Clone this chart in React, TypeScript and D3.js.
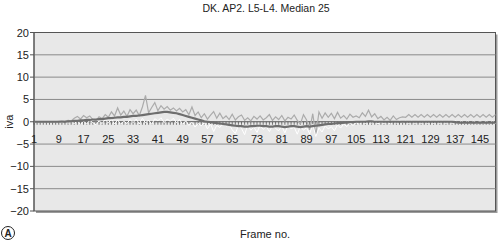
import React from "react";
import * as d3 from "d3";

const title = "DK. AP2. L5-L4. Median 25";
const yTicks = [20, 15, 10, 5, 0, -5, -10, -15, -20];
const xTickLabels = [1, 9, 17, 25, 33, 41, 49, 57, 65, 73, 81, 89, 97, 105, 113, 121, 129, 137, 145];

const upper = [
  0, 0, 0, 0, 0, 0, 0, 0,
  0.1, 0.2, 0.1, 0.3, 0.2, 0.8, 1.2, 0.6,
  1.4, 0.9, 1.3, 0.5, 0.2, 1.1, 0.7, 1.6,
  1.0, 2.2, 1.3, 3.1, 1.5, 2.4, 1.2, 2.7,
  1.8, 2.6, 1.4, 3.3, 5.9, 2.0, 3.2, 4.3,
  2.5, 3.6, 2.8, 3.4, 2.6, 3.1, 2.4, 3.0,
  2.2, 2.7, 1.6, 3.3, 1.4, 2.2, 0.9, 1.8,
  0.6, 1.5, 2.3, 0.8, 1.9, 0.7, 1.3, 0.5,
  1.7, 0.4, 1.1, 1.5, 0.3, 0.9, 0.2, 1.2,
  0.6, 1.3, 0.4, 0.9, 1.6, 0.3, 1.1, 0.5,
  1.4, 0.2, 1.0, 0.6, 1.5, 0.3, -0.5, 1.6,
  0.4, -1.8, 1.8, -3.0, 2.2, 0.8, 2.0, 1.0,
  1.9, 0.7, 2.1, 0.8, 1.4, 0.6, 1.7, 1.0,
  1.3, 0.9, 2.0, 1.2, 2.6, 1.1, 1.8, 0.7,
  1.2, 0.4, 1.0, 0.3, 1.3, 0.5, 0.9, 1.1,
  1.0, 1.6, 1.0, 1.6, 1.0, 1.6, 1.0, 1.6, 1.0, 1.6,
  1.0, 1.6, 1.0, 1.6, 1.0, 1.6, 1.0, 1.6, 1.0, 1.6,
  1.0, 1.6, 1.0, 1.6, 1.0, 1.6, 1.0, 1.6, 1.0, 1.6,
];

const lower = [
  0, 0, 0, 0, 0, 0, 0, 0,
  0, -0.2, 0.1, -0.3, 0, -0.4, 0.2, -0.6,
  0.1, -0.5, 0.3, -0.2, -0.7, 0.2, -0.4, 0.5,
  -0.3, 0.6, -0.5, 0.4, -0.6, 0.1, -0.4, 0.5,
  -0.2, 0.6, -0.5, 0.8, -0.3, 0.4, -0.6, 0.7,
  0.2, 0.9, -0.2, 0.6, 0.1, 0.8, -0.3, 0.5,
  -0.6, 0.2, -0.8, -0.1, -1.2, -0.4, -0.9, -0.2,
  -1.6, -0.5, -2.2, -0.8, -1.3, -0.3, -1.0, -0.6,
  -1.8, -2.6, -0.9, -1.5, -2.9, -0.7, -1.9, -1.2,
  -2.4, -0.8, -1.7, -1.1, -2.2, -0.9, -1.5, -2.0,
  -1.0, -2.5, -0.8, -1.6, -1.2, -2.8, -1.0, -1.9,
  -1.3, -2.7, -0.6, -3.3, -1.4, -2.3, -0.9, -1.6,
  -1.1, -2.0, -0.7, -1.4, -0.5, -1.1, -0.3, -0.8,
  -0.2, -0.6, 0.1, -0.4, 0.2, -0.3, 0.3, -0.5,
  0, -0.4, 0.2, -0.6, 0.1, -0.3, 0.3, -0.2,
  0.2, -0.4, 0.2, -0.4, 0.2, -0.4, 0.2, -0.4, 0.2, -0.4,
  0.2, -0.4, 0.2, -0.4, 0.2, -0.4, 0.2, -0.4, 0.2, -0.4,
  0.2, -0.4, 0.2, -0.4, 0.2, -0.4, 0.2, -0.4, 0.2, -0.4,
];

const median = [
  0, 0, 0, 0, 0, 0, 0, 0,
  0, 0, 0, 0.1, 0.1, 0.2, 0.2, 0.3,
  0.3, 0.4, 0.4, 0.5, 0.5, 0.6, 0.6, 0.7,
  0.8, 0.8, 0.9, 1.0, 1.0, 1.1, 1.1, 1.2,
  1.3, 1.3, 1.4, 1.5, 1.6, 1.7, 1.8, 1.9,
  2.0, 2.1, 2.2, 2.2, 2.1, 2.0, 1.9, 1.7,
  1.5, 1.3, 1.1, 0.9, 0.7, 0.5, 0.3, 0.1,
  0, -0.1, -0.2, -0.3, -0.4, -0.5, -0.6, -0.7,
  -0.8, -0.9, -1.0, -1.0, -1.1, -1.1, -1.0, -1.0,
  -0.9, -0.9, -1.0, -1.0, -1.1, -1.1, -1.0, -1.0,
  -1.1, -1.2, -1.1, -1.0, -1.0, -1.1, -1.2, -1.1,
  -1.0, -1.1, -1.0, -0.9, -0.8, -0.7, -0.6, -0.5,
  -0.5, -0.4, -0.3, -0.3, -0.2, -0.2, -0.1, -0.1,
  0, 0, 0, 0, 0.1, 0.1, 0, 0,
  0, 0, 0, 0, 0, 0, 0, 0,
  0, 0, 0, 0, 0, 0, 0, 0, 0, 0,
  0, 0, 0, 0, 0, 0, -0.1, -0.2, -0.2, -0.2,
  -0.2, -0.2, -0.2, -0.2, -0.2, -0.2, -0.2, -0.2, -0.2, -0.2,
];

const frames = upper.map((_, i) => i + 1);

export default function App() {
  const W = 500, H = 241;
  const left = 34, right = 495.5, top = 32.5, bottom = 211;
  const x = d3.scalePoint<number>().domain(frames).range([left, right]);
  const y = d3.scaleLinear().domain([-20, 20]).range([bottom, top]);
  const line = d3.line<number>().x((_, i) => x(frames[i]) as number).y((d) => y(d));
  const font = "'Liberation Sans', Arial, sans-serif";
  return (
    <svg width={W} height={H} style={{ position: "absolute", left: 0, top: 0, background: "#fff" }}>
      <text x={266} y={12} textAnchor="middle" fontSize={10.5} fontFamily={font} fill="#222">{title}</text>
      {/* shadow */}
      <rect x={left + 2} y={top + 2} width={right - left} height={bottom - top} fill="#9a9a9a" />
      <rect x={left} y={top} width={right - left} height={bottom - top} fill="#e8e8e8" stroke="#555" strokeWidth={1} />
      {yTicks.map((t) => (
        <g key={t}>
          {t !== 0 && t !== 20 && t !== -20 && (
            <line x1={left} x2={right} y1={y(t)} y2={y(t)} stroke="#8a8a8a" strokeWidth={1} />
          )}
          <line x1={left - 4} x2={left} y1={y(t)} y2={y(t)} stroke="#555" />
          <text x={left - 5} y={y(t) + 4} textAnchor="end" fontSize={11} fontFamily={font} fill="#222">
            {t < 0 ? "\u2212" + Math.abs(t) : t}
          </text>
        </g>
      ))}
      <line x1={left} x2={left} y1={top} y2={bottom} stroke="#555" />
      {frames.map((f) => (
        <line key={f} x1={x(f)} x2={x(f)} y1={y(0)} y2={y(0) + 3} stroke="#555" strokeWidth={0.8} />
      ))}
      <line x1={left} x2={right} y1={y(0)} y2={y(0)} stroke="#555" />
      <path d={line(upper) || ""} fill="none" stroke="#ababab" strokeWidth={1.2} />
      <path d={line(lower) || ""} fill="none" stroke="#ffffff" strokeWidth={1} />
      <path d={line(median) || ""} fill="none" stroke="#6e6e6e" strokeWidth={2.2} />
      {xTickLabels.map((f) => (
        <text key={f} x={x(f)} y={y(0) + 21} textAnchor="middle" fontSize={11} fontFamily={font} fill="#222">{f}</text>
      ))}
      <text transform={`translate(13,${y(0)}) rotate(-90)`} textAnchor="middle" fontSize={11} fontFamily={font} fill="#222">iva</text>
      <text x={265} y={238} textAnchor="middle" fontSize={11} fontFamily={font} fill="#222">Frame no.</text>
      <circle cx={8} cy={233} r={6.5} fill="#fff" stroke="#222" strokeWidth={1} />
      <text x={8} y={237} textAnchor="middle" fontSize={10} fontWeight="bold" fontFamily={font} fill="#222">A</text>
    </svg>
  );
}
